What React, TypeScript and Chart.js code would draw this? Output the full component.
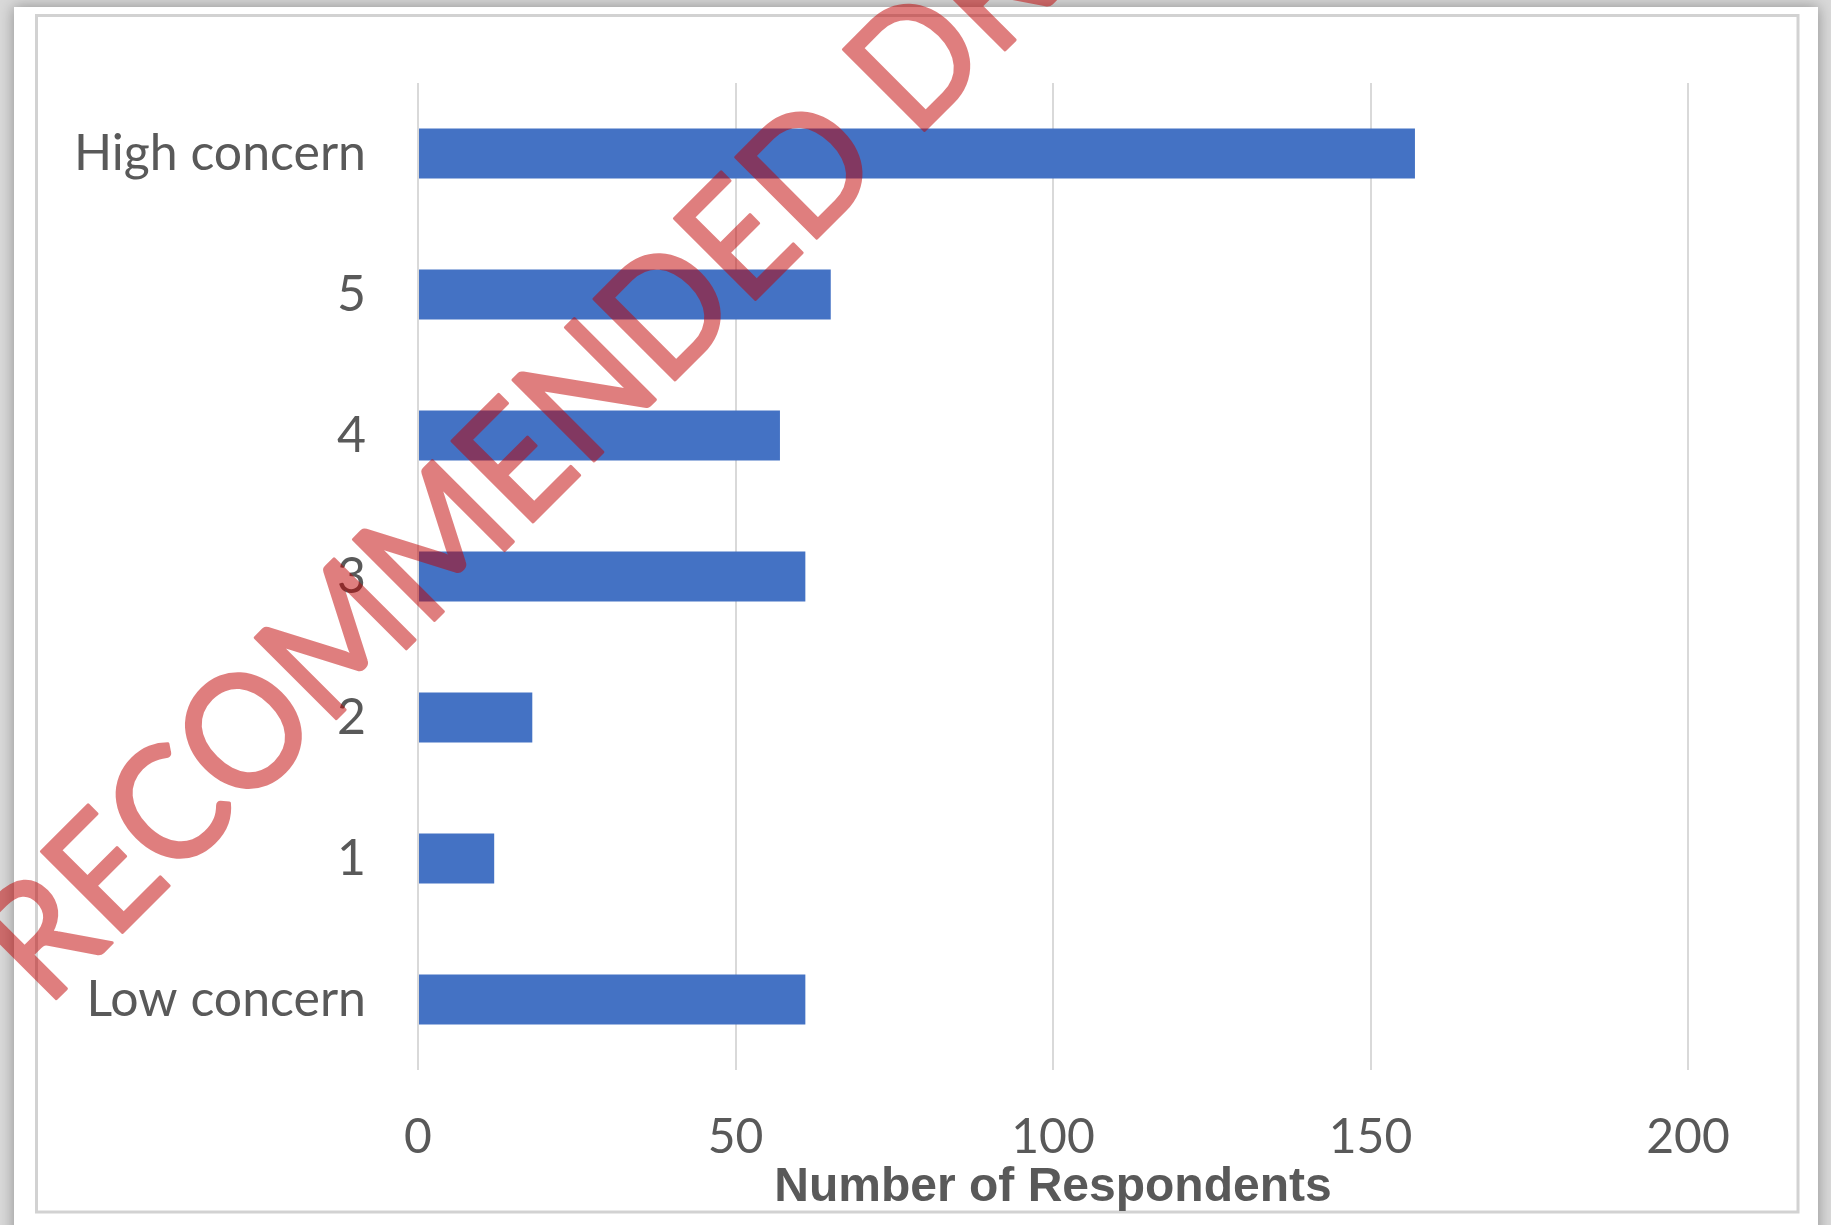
import React, { useEffect, useRef } from "react";
import { Chart, registerables } from "chart.js";

Chart.register(...registerables);

// ---- data ----
const categories = ["High concern", "5", "4", "3", "2", "1", "Low concern"];
const respondents = [157, 65, 57, 61, 18, 12, 61];
const xMin = 0;
const xMax = 200;
const xStep = 50;
const xTitle = "Number of Respondents";
const watermarkText = "RECOMMENDED DRAFT";

const W = 1831;
const H = 1225;

const pagePlugin = {
  id: "pageBackground",
  beforeDraw(chart: any) {
    const ctx = chart.ctx;
    ctx.save();
    ctx.fillStyle = "#d9d9d9";
    ctx.fillRect(0, 0, W, H);
    ctx.shadowColor = "rgba(0,0,0,0.35)";
    ctx.shadowBlur = 14;
    ctx.fillStyle = "#ffffff";
    ctx.fillRect(14, 7, 1818 - 14, H + 40);
    ctx.shadowColor = "transparent";
    ctx.shadowBlur = 0;
    ctx.strokeStyle = "#d2d2d2";
    ctx.lineWidth = 3;
    ctx.strokeRect(36.5, 15.5, 1798 - 36.5, 1212 - 15.5);
    ctx.restore();
  },
};

const watermarkPlugin = {
  id: "watermark",
  afterDraw(chart: any) {
    const ctx = chart.ctx;
    const off = document.createElement("canvas");
    off.width = W;
    off.height = H;
    const o = off.getContext("2d") as CanvasRenderingContext2D;
    o.translate(53, 1002);
    o.rotate((-45 * Math.PI) / 180);
    o.font = "160px Lato";
    const w = o.measureText("RECOMMENDED ").width;
    const sx = 1228 / w;
    o.scale(sx, 1);
    o.fillStyle = "rgb(192,0,0)";
    o.strokeStyle = "rgb(192,0,0)";
    o.lineWidth = 3;
    o.lineJoin = "round";
    o.textBaseline = "alphabetic";
    o.textAlign = "left";
    o.fillText(watermarkText, -10, 0);
    o.strokeText(watermarkText, -10, 0);
    ctx.save();
    ctx.globalAlpha = 0.5;
    ctx.drawImage(off, 0, 0);
    ctx.restore();
  },
};

export default function App() {
  const ref = useRef<HTMLCanvasElement | null>(null);

  useEffect(() => {
    document.body.style.margin = "0";
    const canvas = ref.current;
    if (!canvas) return;
    const chart = new Chart(canvas, {
      type: "bar",
      data: {
        labels: categories,
        datasets: [
          {
            label: xTitle,
            data: respondents,
            backgroundColor: "#4472C4",
            borderWidth: 0,
            categoryPercentage: 1,
            barPercentage: 0.355,
          },
        ],
      },
      options: {
        indexAxis: "y",
        responsive: false,
        animation: false,
        devicePixelRatio: 1,
        layout: { padding: { left: 0, top: 83, right: 143, bottom: 0 } },
        plugins: {
          legend: { display: false },
          tooltip: { enabled: false },
        },
        scales: {
          x: {
            type: "linear",
            min: xMin,
            max: xMax,
            ticks: {
              stepSize: xStep,
              color: "#595959",
              font: { family: "Lato", size: 48 },
              padding: 39,
              maxRotation: 0,
            },
            grid: { color: "#d9d9d9", lineWidth: 2, drawTicks: false },
            border: { display: false },
            title: {
              display: true,
              text: xTitle,
              color: "#595959",
              font: { family: "Liberation Sans", size: 48, weight: "bold" },
              padding: { top: 0, bottom: 8 },
            },
            afterFit: (s: any) => {
              s.height = 155;
            },
          },
          y: {
            type: "category",
            grid: { display: false, drawTicks: false },
            border: { display: false },
            ticks: {
              color: "#595959",
              font: { family: "Lato", size: 50 },
              padding: 52,
            },
            afterFit: (s: any) => {
              s.width = 418;
            },
          },
        },
      },
      plugins: [pagePlugin, watermarkPlugin],
    } as any);
    return () => chart.destroy();
  }, []);

  return (
    <div style={{ position: "absolute", left: 0, top: 0, width: W, height: H }}>
      <canvas ref={ref} width={W} height={H} style={{ display: "block" }} />
    </div>
  );
}
